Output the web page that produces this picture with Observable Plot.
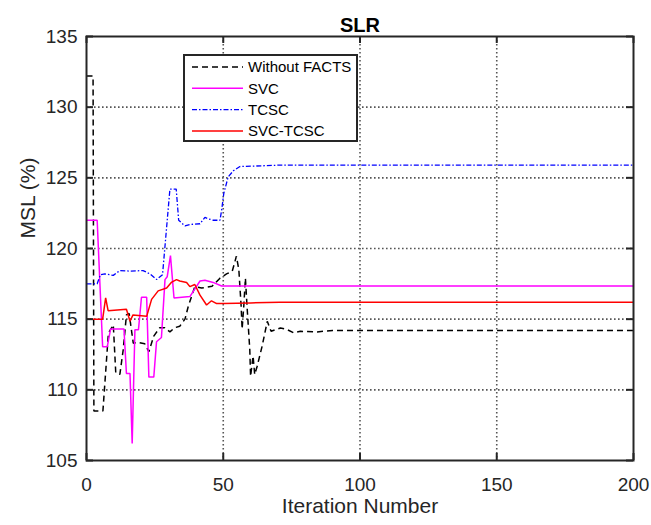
<!DOCTYPE html>
<html>
<head>
<meta charset="utf-8">
<script src="https://cdn.jsdelivr.net/npm/d3@7"></script>
<script src="https://cdn.jsdelivr.net/npm/@observablehq/plot@0.6"></script>
<style>
  html, body { margin: 0; padding: 0; background: white; }
  #wrap { position: relative; width: 651px; height: 525px; font-family: "Liberation Sans", Arial, sans-serif; }
  #legend { position: absolute; left: 183px; top: 54px; width: 175px; height: 88px; box-sizing: border-box;
            border: 2px solid #262626; background: white; }
</style>
</head>
<body>
<div id="wrap"><div id="legend"></div></div>
<script>
// ---- data ----
const title = "SLR";
const xLabel = "Iteration Number";
const yLabel = "MSL (%)";
const xTicks = [0, 50, 100, 150, 200];
const yTicks = [105, 110, 115, 120, 125, 130, 135];
const seriesNames = ["Without FACTS", "SVC", "TCSC", "SVC-TCSC"];

const iterNoFacts = [0, 2.4, 2.7, 6.0, 8.0, 9.8, 10.7, 12.2, 13.4, 14.6, 15.6, 17.1, 18.9, 21.3, 22.8, 24.6, 26.8, 28.6, 30.5, 32.3, 34.1, 36, 37.2, 38.4, 39.6, 42.1, 45.9, 48.8, 51.2, 53.3, 54.8, 55.7, 56.55, 56.9, 57.5, 58.1, 58.7, 59.7, 60.0, 60.9, 61.5, 62.4, 64.2, 66.1, 67.5, 70.9, 73.4, 75.8, 78.2, 84.3, 90, 200];
const mslNoFacts  = [132.2, 132.2, 108.5, 108.5, 114.0, 114.6, 111.2, 111.1, 112.8, 115.3, 115.4, 113.3, 113.35, 113.26, 112.7, 113.8, 114.4, 114.4, 114.1, 114.4, 114.5, 115.0, 115.9, 116.6, 117.3, 117.2, 117.33, 117.9, 118.2, 118.4, 119.45, 118.5, 115.9, 114.3, 115.9, 117.9, 115.9, 112.85, 110.96, 112.4, 111.08, 111.67, 113.08, 114.85, 114.14, 114.38, 114.26, 114.03, 114.14, 114.1, 114.2, 114.2];

const iterSVC = [0, 3.9, 5.9, 7.6, 8.8, 13.7, 14.6, 15.9, 16.7, 17.7, 19.0, 20.1, 22.0, 22.8, 24.6, 25.6, 27.4, 28.7, 29.5, 30.7, 32.0, 37.8, 41.5, 43.3, 46.3, 49.4, 200];
const mslSVC  = [122.0, 122.0, 113.05, 113.05, 114.3, 114.3, 111.15, 111.15, 106.2, 114.25, 114.25, 116.55, 116.55, 110.9, 110.9, 113.4, 113.7, 117.8, 118.0, 119.5, 116.5, 116.6, 117.7, 117.75, 117.6, 117.35, 117.35];

const iterTCSC = [0, 3.9, 5.1, 6.7, 9.8, 12.2, 15.9, 20.7, 23.2, 25.6, 27.8, 30.5, 32.8, 33.7, 36, 37.8, 41.5, 43.3, 44.5, 46.3, 48.8, 49.4, 50.2, 51.8, 53.7, 56.1, 61, 70.7, 200];
const mslTCSC  = [117.5, 117.5, 118.15, 118.2, 118.1, 118.44, 118.4, 118.44, 118.2, 117.8, 118.15, 124.2, 124.2, 122.0, 121.6, 121.7, 121.75, 122.2, 122.1, 122.0, 122.0, 122.7, 123.9, 125.07, 125.5, 125.8, 125.83, 125.9, 125.9];

const iterBoth = [0, 5.9, 7.0, 7.9, 14.6, 15.9, 17.0, 22.0, 23.8, 26.2, 29.3, 31.0, 32.9, 34.1, 36.6, 37.8, 39.6, 41.5, 43.9, 45.7, 47.6, 50, 60, 70.7, 200];
const mslBoth  = [115.0, 115.0, 116.5, 115.6, 115.7, 114.85, 115.3, 115.2, 116.4, 117.0, 117.2, 117.6, 117.8, 117.7, 117.6, 117.3, 117.45, 116.7, 116.0, 116.3, 116.1, 116.1, 116.15, 116.2, 116.2];

// ---- styles ----
const colors = ["#000000", "#ff00ff", "#0000ff", "#ff0000"];
const dashes = ["6,4", null, "5,2,1.5,2", null];
const widths = [1.5, 1.5, 1.3, 1.5];
const ink = "#262626";

const toRows = (xs, ys) => xs.map((x, i) => ({iter: x, msl: ys[i]}));
const tables = [
  toRows(iterNoFacts, mslNoFacts),
  toRows(iterSVC, mslSVC),
  toRows(iterTCSC, mslTCSC),
  toRows(iterBoth, mslBoth)
];

const W = 651, H = 525, mL = 86, mR = 18, mT = 36, mB = 65;
const fw = W - mL - mR, fh = H - mT - mB, tk = 7;
const gridStyle = {stroke: "#555", strokeOpacity: 1, strokeWidth: 1.6, strokeDasharray: "1.6,2.4"};
const tickStyle = {stroke: ink, strokeWidth: 2};

const chart = Plot.plot({
  width: W,
  height: H,
  marginLeft: mL,
  marginRight: mR,
  marginTop: mT,
  marginBottom: mB,
  style: {fontFamily: "'Liberation Sans', Arial, sans-serif", fontSize: "19px", color: ink, background: "white", overflow: "visible"},
  x: {domain: [0, 200]},
  y: {domain: [105, 135]},
  marks: [
    Plot.gridX(xTicks.slice(1, -1), gridStyle),
    Plot.gridY(yTicks.slice(1, -1), gridStyle),
    ...tables.map((t, i) => Plot.line(t, {
      x: "iter", y: "msl", stroke: colors[i], strokeWidth: widths[i],
      strokeDasharray: dashes[i], strokeLinejoin: "miter", strokeLinecap: "butt"
    })),
    Plot.frame({stroke: ink, strokeWidth: 2}),
    // inward ticks on all four sides
    Plot.tickX(xTicks, {x: d => d, insetTop: fh - tk, ...tickStyle}),
    Plot.tickX(xTicks, {x: d => d, insetBottom: fh - tk, ...tickStyle}),
    Plot.tickY(yTicks, {y: d => d, insetRight: fw - tk, ...tickStyle}),
    Plot.tickY(yTicks, {y: d => d, insetLeft: fw - tk, ...tickStyle}),
    Plot.axisX(xTicks, {anchor: "bottom", tickSize: 0, tickPadding: 17, fill: ink, label: null, fontSize: 19}),
    Plot.axisY(yTicks, {anchor: "left", tickSize: 0, tickPadding: 9, fill: ink, label: null, fontSize: 19}),
    Plot.text([title], {frameAnchor: "top", dy: -5, lineAnchor: "bottom", fontWeight: "bold", fontSize: 20, fill: "#000"}),
    Plot.text([xLabel], {frameAnchor: "bottom", dy: 52, fontSize: 21, fill: ink}),
    Plot.text([yLabel], {frameAnchor: "left", dx: -58, dy: -10, rotate: -90, fontSize: 21, fill: ink})
  ]
});
document.getElementById("wrap").prepend(chart);

// ---- legend ----
const leg = d3.select("#legend").append("svg").attr("width", 171).attr("height", 84)
  .style("display", "block");
seriesNames.forEach((name, i) => {
  const cy = 11 + i * 21.3;
  leg.append("line").attr("x1", 7).attr("x2", 58).attr("y1", cy).attr("y2", cy)
    .attr("stroke", colors[i]).attr("stroke-width", widths[i])
    .attr("stroke-dasharray", dashes[i]);
  leg.append("text").attr("x", 63).attr("y", cy).attr("dy", "0.35em")
    .attr("font-family", "'Liberation Sans', Arial, sans-serif").attr("font-size", 15)
    .attr("fill", "#000").text(name);
});
</script>
</body>
</html>
